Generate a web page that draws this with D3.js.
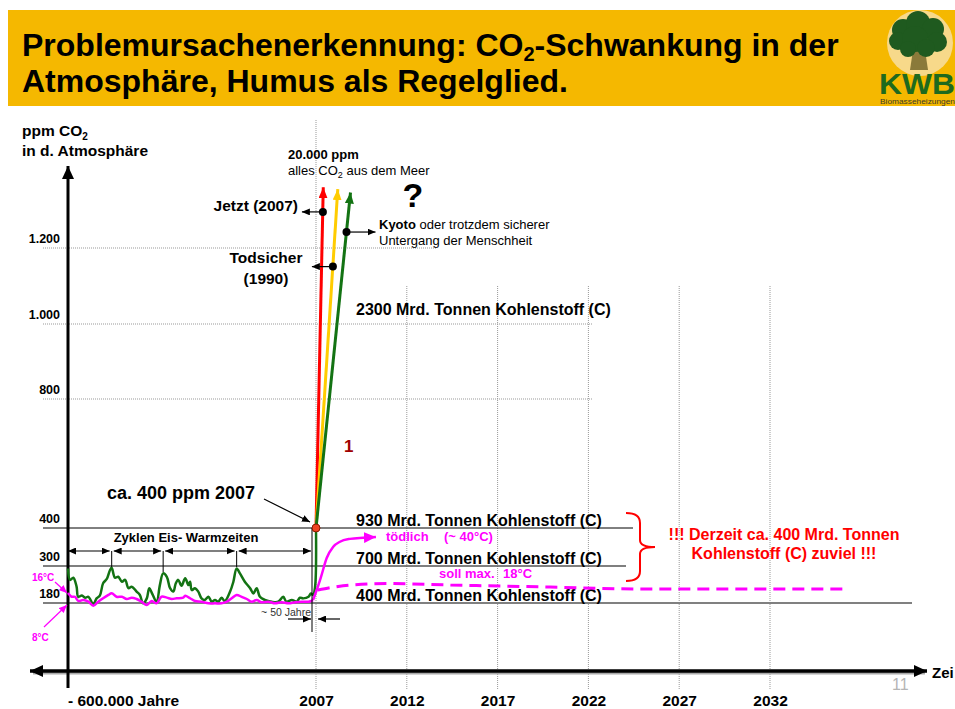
<!DOCTYPE html>
<html>
<head>
<meta charset="utf-8">
<script src="https://cdn.jsdelivr.net/npm/d3@7"></script>
<style>
body { margin: 0; background: #fff; }
svg { display: block; font-family: "Liberation Sans", Arial, sans-serif; }
</style>
</head>
<body>
<div id="chart"></div>
<script>
// ---- data ----
var years = [2007, 2012, 2017, 2022, 2027, 2032];
var ppmTicks = [180, 300, 400, 800, 1000, 1200];
var ppmTickLabels = ["180", "300", "400", "800", "1.000", "1.200"];
var carbonLevels = [1000, 400, 300, 180];
var carbonLabels = ["2300 Mrd. Tonnen Kohlenstoff (C)", "930 Mrd. Tonnen Kohlenstoff (C)",
                    "700 Mrd. Tonnen Kohlenstoff (C)", "400 Mrd. Tonnen Kohlenstoff (C)"];

// CO2 over the last 600.000 years: [tausend Jahre, ppm]
var co2Paleo = [[-600,292],[-595,255],[-587,262],[-579,233],[-575,200],[-566,204],[-558,197],[-550,200],
  [-538,176],[-530,195],[-522,204],[-514,244],[-505,258],[-497,287],[-493,294],[-485,262],[-477,265],
  [-468,249],[-460,255],[-452,228],[-444,233],[-432,217],[-424,206],[-416,179],[-407,195],[-401,228],
  [-393,208],[-383,184],[-375,238],[-367,276],[-358,265],[-350,228],[-342,217],[-336,244],[-330,255],
  [-322,236],[-313,260],[-305,238],[-301,249],[-297,222],[-289,228],[-281,217],[-273,195],[-265,190],
  [-256,200],[-248,184],[-240,190],[-232,184],[-224,197],[-216,186],[-203,217],[-195,249],[-187,292],
  [-179,276],[-167,249],[-154,228],[-146,211],[-138,228],[-130,200],[-118,190],[-101,184],[-85,184],
  [-73,200],[-65,184],[-52,190],[-40,184],[-32,197],[-24,195],[-11,200],[-5,211],[0,206]];
// temperature over the same span: [tausend Jahre, °C]
var tempPaleo = [[-600,16],[-591,13.5],[-583,13.5],[-575,10.7],[-563,11.3],[-550,10.2],[-538,7.5],
  [-526,10.2],[-514,12.5],[-501,14.7],[-493,15.8],[-481,13.5],[-468,13.5],[-456,12],[-444,12.9],
  [-432,12],[-420,10.2],[-407,8],[-395,10.7],[-383,9.1],[-371,13.5],[-358,12.9],[-346,12],[-334,12.5],
  [-318,12.9],[-313,14.2],[-301,12.5],[-289,10.7],[-273,10.2],[-256,9.1],[-240,9.1],[-224,9.1],
  [-211,10.2],[-199,12.5],[-187,14.7],[-175,13.5],[-162,12],[-150,10.2],[-138,11.3],[-126,9.8],
  [-109,10.2],[-93,9.1],[-77,9.8],[-60,9.1],[-44,9.8],[-28,10.2],[-11,10.2],[0,11.3]];
// temperature rise after 2007 ("tödlich") and target ("soll max. 18°C"): [Jahr, °C]
var tempRise = [[2007.04,17.5],[2007.26,22.7],[2007.59,31.1],[2007.95,35.9],[2008.32,38],
  [2008.87,39.2],[2009.6,39.7],[2010.3,40]];
var tempTarget = [[2007.1,17.5],[2007.9,18.7],[2008.9,19.7],[2011.1,20.3],[2014.4,19.7],
  [2019.9,18.8],[2024.8,18],[2036,18]];
// CO2 now and the three scenarios: [Jahr, ppm]
var co2Now = [2007, 400];
var scenarioEnds = [[2007.4,1360],[2008.2,1355],[2008.9,1346]];
var scenarioColors = ["#ff0000", "#ffcc00", "#137313"];
var markerPoints = [[2007.38,1295],[2007.93,1151],[2008.68,1242]];
// ice/warm cycle boundaries in tausend Jahre
var cycleBounds = [-600, -493, -367, -187, 0];

// ---- scales ----
var yearX = d3.scaleLinear().domain([2007, 2032]).range([316, 770]);
var paleoX = d3.scaleLinear().domain([-600, 0]).range([68, 313]);
var ppmY = d3.scaleLinear().domain(ppmTicks).range([603, 566, 528, 399, 324, 248]);
var tempY = d3.scaleLinear().domain([8, 16, 18, 40]).range([605, 593, 589, 537]);

var svg = d3.select("#chart").append("svg").attr("width", 955).attr("height", 709);
var defs = svg.append("defs");

function arrow(id, color, len, wid) {
  defs.append("marker").attr("id", id)
    .attr("viewBox", "0 0 " + len + " " + wid)
    .attr("refX", len).attr("refY", wid / 2)
    .attr("markerWidth", len).attr("markerHeight", wid)
    .attr("markerUnits", "userSpaceOnUse")
    .attr("orient", "auto-start-reverse")
    .append("path")
    .attr("d", "M0,0L" + len + "," + (wid / 2) + "L0," + wid + "Z")
    .attr("fill", color);
}
arrow("ax", "#000", 13, 12);
arrow("blk", "#000", 8, 7);
arrow("pk", "#ff00ff", 8, 7);
arrow("pkbig", "#ff00ff", 12, 11);
scenarioColors.forEach(function (c, i) { arrow("sc" + i, c, 11, 9); });

// ---- title banner ----
svg.append("rect").attr("x", 8).attr("y", 10).attr("width", 947).attr("height", 96).attr("fill", "#f5b800");
var t1 = svg.append("text").attr("x", 22).attr("y", 56)
  .style("font-size", "32px").style("font-weight", "bold");
t1.append("tspan").text("Problemursachenerkennung: CO");
t1.append("tspan").attr("dy", 5).style("font-size", "20px").text("2");
t1.append("tspan").attr("dy", -5).text("-Schwankung in der");
svg.append("text").attr("x", 22).attr("y", 92)
  .style("font-size", "32px").style("font-weight", "bold")
  .text("Atmosphäre, Humus als Regelglied.");

// logo
var logo = svg.append("g").attr("transform", "translate(865,10)");
logo.append("circle").attr("cx", 55).attr("cy", 33).attr("r", 33).attr("fill", "#f7d98a");
logo.append("path").attr("d", "M45,60 L48,40 L60,40 L63,60 Z").attr("fill", "#8a7a3a");
[[38,20,11],[53,13,12],[68,19,11],[33,31,9],[50,29,13],[72,32,10],[61,38,9],[43,39,8]].forEach(function (c) {
  logo.append("circle").attr("cx", c[0]).attr("cy", c[1]).attr("r", c[2]).attr("fill", "#1f5a1f");
});
logo.append("text").attr("x", 14).attr("y", 84).attr("textLength", 76).attr("lengthAdjust", "spacingAndGlyphs")
  .style("font-size", "30px").style("font-weight", "bold").attr("fill", "#1e6a1e").text("KWB");
logo.append("text").attr("x", 15).attr("y", 94).attr("textLength", 75).attr("lengthAdjust", "spacingAndGlyphs")
  .style("font-size", "7px").attr("fill", "#3a3a2a").text("Biomasseheizungen");

// ---- grid ----
var grid = svg.append("g").attr("stroke", "#999").attr("stroke-width", 1).attr("stroke-dasharray", "1,1");
grid.selectAll("line.v").data(years).enter().append("line")
  .attr("x1", function (d) { return yearX(d); }).attr("x2", function (d) { return yearX(d); })
  .attr("y1", function (d) { return d === 2007 ? 120 : 286; }).attr("y2", 690);
grid.selectAll("line.h").data([800, 1000, 1200]).enter().append("line")
  .attr("x1", 43).attr("x2", function (d) { return d === 1200 ? 437 : 593; })
  .attr("y1", function (d) { return ppmY(d); }).attr("y2", function (d) { return ppmY(d); });

// solid level lines
var levelStyle = { 400: ["#000", 1, 633], 300: ["#555", 1.5, 626], 180: ["#808080", 2, 912] };
svg.selectAll("line.lvl").data([400, 300, 180]).enter().append("line")
  .attr("x1", 43).attr("x2", function (d) { return levelStyle[d][2]; })
  .attr("y1", function (d) { return ppmY(d); }).attr("y2", function (d) { return ppmY(d); })
  .attr("stroke", function (d) { return levelStyle[d][0]; })
  .attr("stroke-width", function (d) { return levelStyle[d][1]; });

// y tick labels
svg.selectAll("text.yt").data(ppmTicks).enter().append("text")
  .attr("x", 60).attr("y", function (d) { return ppmY(d) - 5; })
  .attr("text-anchor", "end").style("font-size", "12.5px").style("font-weight", "bold")
  .text(function (d, i) { return ppmTickLabels[i]; });

// y title
var yt = svg.append("text").attr("x", 22).attr("y", 136).style("font-size", "15.5px").style("font-weight", "bold");
yt.append("tspan").text("ppm CO");
yt.append("tspan").attr("dy", 4).style("font-size", "10px").text("2");
svg.append("text").attr("x", 22).attr("y", 156).style("font-size", "15.5px").style("font-weight", "bold")
  .text("in d. Atmosphäre");

// carbon labels
svg.selectAll("text.cl").data(carbonLevels).enter().append("text")
  .attr("x", 356).attr("y", function (d) { return ppmY(d) - (d === 1000 ? 9 : 2); })
  .style("font-size", "16px").style("font-weight", "bold")
  .text(function (d, i) { return carbonLabels[i]; });

// ---- axes ----
svg.append("line").attr("x1", 33).attr("x2", 925).attr("y1", 673).attr("y2", 673)
  .attr("stroke", "#aaa").attr("stroke-width", 3);
svg.append("line").attr("x1", 30).attr("x2", 927).attr("y1", 671).attr("y2", 671)
  .attr("stroke", "#000").attr("stroke-width", 3.5)
  .attr("marker-start", "url(#ax)").attr("marker-end", "url(#ax)");
svg.append("line").attr("x1", 68).attr("x2", 68).attr("y1", 688).attr("y2", 166)
  .attr("stroke", "#000").attr("stroke-width", 3).attr("marker-end", "url(#ax)");

var xAxis = svg.append("g").attr("transform", "translate(0,706)")
  .call(d3.axisBottom(yearX).tickValues(years).tickSize(0).tickFormat(d3.format("d")));
xAxis.select(".domain").remove();
xAxis.selectAll("text").attr("y", 0).attr("dy", 0).attr("fill", "#000")
  .style("font-size", "15.5px").style("font-weight", "bold").style("font-family", "Liberation Sans, Arial, sans-serif");
svg.append("text").attr("x", 68).attr("y", 706).style("font-size", "15.5px").style("font-weight", "bold")
  .text("- 600.000 Jahre");
svg.append("text").attr("x", 932).attr("y", 678).style("font-size", "15px").style("font-weight", "bold").text("Zei");
svg.append("text").attr("x", 892).attr("y", 690).style("font-size", "16px").attr("fill", "#b5b5b5").text("11");

// ---- paleo curves ----
var paleoLine = d3.line().curve(d3.curveCatmullRom.alpha(0.5));
svg.append("path")
  .attr("d", paleoLine(co2Paleo.map(function (d) { return [paleoX(d[0]), ppmY(d[1])]; })
    .concat([[yearX(co2Now[0]) - 1, ppmY(230)], [yearX(co2Now[0]), ppmY(co2Now[1])]])))
  .attr("fill", "none").attr("stroke", "#137313").attr("stroke-width", 2.5);

svg.append("path")
  .attr("d", paleoLine(tempPaleo.map(function (d) { return [paleoX(d[0]), tempY(d[1])]; })))
  .attr("fill", "none").attr("stroke", "#ff00ff").attr("stroke-width", 2.5);

// temperature rise and target
var riseLine = d3.line().curve(d3.curveMonotoneX)
  .x(function (d) { return yearX(d[0]); }).y(function (d) { return tempY(d[1]); });
svg.append("path")
  .attr("d", d3.line().curve(d3.curveMonotoneX)([[paleoX(0), tempY(11.3)]]
    .concat(tempRise.map(function (d) { return [yearX(d[0]), tempY(d[1])]; }))))
  .attr("fill", "none").attr("stroke", "#ff00ff").attr("stroke-width", 2.5)
  .attr("marker-end", "url(#pkbig)");
svg.append("path").attr("d", riseLine(tempTarget))
  .attr("fill", "none").attr("stroke", "#ff00ff").attr("stroke-width", 3).attr("stroke-dasharray", "12,7");

// ---- scenarios ----
svg.selectAll("line.sc").data(scenarioEnds).enter().append("line")
  .attr("x1", yearX(co2Now[0])).attr("y1", ppmY(co2Now[1]))
  .attr("x2", function (d) { return yearX(d[0]); }).attr("y2", function (d) { return ppmY(d[1]); })
  .attr("stroke", function (d, i) { return scenarioColors[i]; }).attr("stroke-width", 3)
  .attr("marker-end", function (d, i) { return "url(#sc" + i + ")"; });

// marker arrows and dots
var markerDir = [-1, -1, 1];
var markerLen = [21, 21, 29];
svg.selectAll("line.mk").data(markerPoints).enter().append("line")
  .attr("x1", function (d) { return yearX(d[0]); }).attr("y1", function (d) { return ppmY(d[1]); })
  .attr("x2", function (d, i) { return yearX(d[0]) + markerDir[i] * markerLen[i]; })
  .attr("y2", function (d) { return ppmY(d[1]); })
  .attr("stroke", "#000").attr("stroke-width", 1.2).attr("marker-end", "url(#blk)");
svg.selectAll("circle.mk").data(markerPoints).enter().append("circle")
  .attr("cx", function (d) { return yearX(d[0]); }).attr("cy", function (d) { return ppmY(d[1]); })
  .attr("r", 4).attr("fill", "#000");

svg.append("text").attr("x", 298).attr("y", 211).attr("text-anchor", "end")
  .style("font-size", "15.5px").style("font-weight", "bold").text("Jetzt (2007)");
svg.append("text").attr("x", 266).attr("y", 263).attr("text-anchor", "middle")
  .style("font-size", "15.5px").style("font-weight", "bold").text("Todsicher");
svg.append("text").attr("x", 266).attr("y", 284).attr("text-anchor", "middle")
  .style("font-size", "15.5px").style("font-weight", "bold").text("(1990)");
var ky = svg.append("text").attr("x", 379).attr("y", 229).style("font-size", "13px");
ky.append("tspan").style("font-weight", "bold").text("Kyoto");
ky.append("tspan").text(" oder trotzdem sicherer");
svg.append("text").attr("x", 379).attr("y", 245).style("font-size", "13px").text("Untergang der Menschheit");

svg.append("text").attr("x", 288).attr("y", 159).style("font-size", "13px").style("font-weight", "bold").text("20.000 ppm");
var al = svg.append("text").attr("x", 288).attr("y", 175).style("font-size", "13px");
al.append("tspan").text("alles CO");
al.append("tspan").attr("dy", 3).style("font-size", "9px").text("2");
al.append("tspan").attr("dy", -3).text(" aus dem Meer");
svg.append("text").attr("x", 413).attr("y", 207).attr("text-anchor", "middle")
  .style("font-size", "34px").style("font-weight", "bold").text("?");
svg.append("text").attr("x", 344).attr("y", 452).attr("fill", "#a00000")
  .style("font-size", "17px").style("font-weight", "bold").text("1");

// ca. 400 ppm 2007
svg.append("text").attr("x", 107).attr("y", 499).style("font-size", "18px").style("font-weight", "bold")
  .text("ca. 400 ppm 2007");
svg.append("line").attr("x1", 264).attr("y1", 499).attr("x2", 310).attr("y2", 522)
  .attr("stroke", "#000").attr("stroke-width", 1.2).attr("marker-end", "url(#blk)");
svg.append("line").attr("x1", yearX(2007) - 4).attr("x2", yearX(2007) - 4)
  .attr("y1", ppmY(400)).attr("y2", 632).attr("stroke", "#000").attr("stroke-width", 1);
svg.append("circle").attr("cx", yearX(co2Now[0])).attr("cy", ppmY(co2Now[1])).attr("r", 4)
  .attr("fill", "#ee4422").attr("stroke", "#8a1a00").attr("stroke-width", 1);

// cycles
svg.append("text").attr("x", 186).attr("y", 542).attr("text-anchor", "middle")
  .style("font-size", "13px").style("font-weight", "bold").text("Zyklen Eis- Warmzeiten");
var cyc = d3.pairs(cycleBounds);
svg.selectAll("line.cy").data(cyc).enter().append("line")
  .attr("x1", function (d, i) { return paleoX(d[0]) + (i ? 2 : 0); })
  .attr("x2", function (d) { return paleoX(d[1]) - 2; })
  .attr("y1", 551).attr("y2", 551).attr("stroke", "#000").attr("stroke-width", 1.2)
  .attr("marker-start", "url(#blk)").attr("marker-end", "url(#blk)");
svg.selectAll("line.ct").data(cycleBounds.slice(1, 4)).enter().append("line")
  .attr("x1", function (d) { return paleoX(d); }).attr("x2", function (d) { return paleoX(d); })
  .attr("y1", 551).attr("y2", function (d, i) { return i === 1 ? 572 : 567; })
  .attr("stroke", "#000").attr("stroke-width", 1);

// ~50 Jahre
svg.append("text").attr("x", 311).attr("y", 616).attr("text-anchor", "end")
  .style("font-size", "10.5px").attr("fill", "#333").text("~ 50 Jahre");
svg.append("line").attr("x1", 288).attr("x2", 311).attr("y1", 619).attr("y2", 619)
  .attr("stroke", "#000").attr("stroke-width", 1.2).attr("marker-end", "url(#blk)");
svg.append("line").attr("x1", 340).attr("x2", 318).attr("y1", 619).attr("y2", 619)
  .attr("stroke", "#000").attr("stroke-width", 1.2).attr("marker-end", "url(#blk)");

// temperature notes
svg.append("text").attr("x", 32).attr("y", 581).attr("fill", "#ff00ff")
  .style("font-size", "10px").style("font-weight", "bold").text("16°C");
svg.append("line").attr("x1", 55).attr("y1", 582).attr("x2", 67).attr("y2", tempY(16))
  .attr("stroke", "#ff00ff").attr("stroke-width", 1.2).attr("marker-end", "url(#pk)");
svg.append("text").attr("x", 32).attr("y", 641).attr("fill", "#ff00ff")
  .style("font-size", "10px").style("font-weight", "bold").text("8°C");
svg.append("line").attr("x1", 44).attr("y1", 627).attr("x2", 67).attr("y2", tempY(8))
  .attr("stroke", "#ff00ff").attr("stroke-width", 1.2).attr("marker-end", "url(#pk)");

var td = svg.append("text").attr("y", 541).attr("fill", "#ff00ff").style("font-size", "13px").style("font-weight", "bold");
td.append("tspan").attr("x", 386).text("tödlich");
td.append("tspan").attr("x", 444).text("(~ 40°C)");
var sm = svg.append("text").attr("y", 578).attr("fill", "#ff00ff").style("font-size", "13px").style("font-weight", "bold");
sm.append("tspan").attr("x", 439).text("soll max.");
sm.append("tspan").attr("x", 503).text("18°C");

// red brace + note
svg.append("path")
  .attr("d", "M626,513 Q640,513 640,523 L640,540 Q640,547 655,547 Q640,547 640,554 L640,571 Q640,581 626,581")
  .attr("fill", "none").attr("stroke", "#ff0000").attr("stroke-width", 2);
svg.append("text").attr("x", 784).attr("y", 540).attr("text-anchor", "middle").attr("fill", "#ff0000")
  .style("font-size", "16px").style("font-weight", "bold").text("!!! Derzeit ca. 400 Mrd. Tonnen");
svg.append("text").attr("x", 784).attr("y", 559).attr("text-anchor", "middle").attr("fill", "#ff0000")
  .style("font-size", "16px").style("font-weight", "bold").text("Kohlenstoff (C) zuviel !!!");
</script>
</body>
</html>
